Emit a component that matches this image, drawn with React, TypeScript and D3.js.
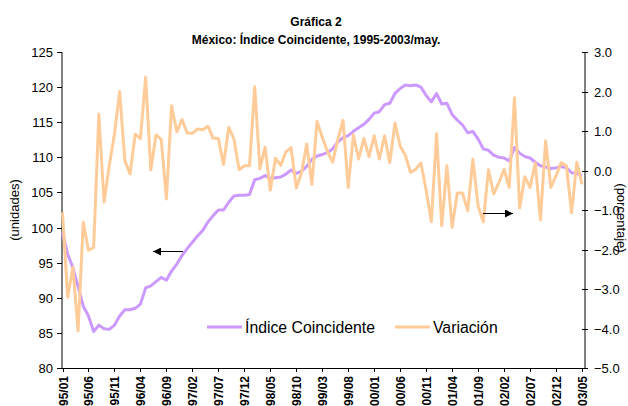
import React from 'react';
import * as d3 from 'd3';

// Monthly categories 95/01 .. 03/05
const years = ['95', '96', '97', '98', '99', '00', '01', '02', '03'];
const months = ['01', '02', '03', '04', '05', '06', '07', '08', '09', '10', '11', '12'];
const categories: string[] = [];
years.forEach(y => months.forEach(m => { if (!(y === '03' && +m > 5)) categories.push(`${y}/${m}`); }));

const tickLabels = [
  '95/01', '95/06', '95/11', '96/04', '96/09', '97/02', '97/07', '97/12', '98/05', '98/10', '99/03',
  '99/08', '00/01', '00/06', '00/11', '01/04', '01/09', '02/02', '02/07', '02/12', '03/05',
];

// Índice Coincidente (unidades)
const indice = [
  99.3, 96.2, 94.3, 91.6, 88.8, 87.4, 85.2, 86.1, 85.6, 85.5,
  86.1, 87.4, 88.3, 88.3, 88.5, 89.1, 91.4, 91.7, 92.3, 92.9,
  92.5, 93.8, 94.8, 96.0, 97.0, 97.9, 98.8, 99.6, 100.8, 101.7,
  102.5, 102.5, 103.6, 104.5, 104.6, 104.6, 104.7, 106.8, 107.0, 107.4,
  107.0, 107.1, 107.2, 107.6, 108.2, 107.7, 108.0, 108.7, 109.7, 110.2,
  110.4, 110.7, 111.2, 112.2, 112.8, 113.1, 113.7, 114.2, 114.7, 115.4,
  116.3, 116.5, 117.5, 117.7, 119.1, 119.8, 120.3, 120.2, 120.3, 120.0,
  118.8, 117.9, 119.1, 117.6, 117.7, 116.1, 115.3, 114.6, 113.5, 113.7,
  112.6, 111.2, 111.0, 110.3, 110.0, 109.9, 109.5, 111.4, 110.6, 110.1,
  109.9, 109.3, 108.8, 108.6, 108.4, 108.5, 108.7, 108.5, 107.8, 107.7,
  107.4,
];

// Variación (porcentaje)
const variacion = [
  -1.06, -3.21, -2.45, -4.06, -1.31, -2.02, -1.95, 1.43, -0.80, 0.12,
  0.92, 2.0, 0.25, -0.09, 0.92, 0.81, 2.36, 0.01, 0.90, 0.79,
  -0.72, 1.64, 0.98, 1.29, 0.95, 0.94, 1.05, 1.03, 1.12, 0.82,
  0.81, 0.15, 1.09, 0.80, 0.02, 0.12, 0.12, 2.12, 0.04, 0.59,
  -0.50, 0.31, 0.13, 0.47, 0.58, -0.44, -0.07, 0.67, -0.35, 1.24,
  0.84, 0.48, 0.21, 0.78, 1.27, -0.43, 0.90, 0.29, 0.81, 0.35,
  0.88, 0.29, 0.88, 0.20, 1.20, 0.62, 0.38, -0.05, 0.03, 0.19,
  -0.50, -1.30, 0.93, -1.40, 0.12, -1.44, -0.57, -0.57, -1.02, 0.29,
  -0.90, -1.30, 0.02, -0.59, -0.31, 0.03, -0.43, 1.84, -0.95, -0.16,
  -0.43, 0.19, -1.25, 0.75, -0.43, -0.13, 0.20, 0.12, -1.07, 0.21,
  -0.35,
];

const leftTicks = [80, 85, 90, 95, 100, 105, 110, 115, 120, 125];
const rightTicks = [-5, -4, -3, -2, -1, 0, 1, 2, 3];

const W = 628;
const H = 406;
const left = 62;
const right = 585;
const top = 52;
const bottom = 368;
const font = "'Liberation Sans', Arial, sans-serif";
const purple = '#CC99FF';
const orange = '#FFCC99';

const App: React.FC = () => {
  const x = d3.scalePoint<string>().domain(categories).range([left + 0.5, 582]);
  const yL = d3.scaleLinear().domain([80, 125]).range([bottom, top]);
  const yR = d3.scaleLinear().domain([-5, 3]).range([bottom, top]);

  const lineL = d3.line<number>().x((_, i) => x(categories[i])!).y(d => yL(d));
  const lineR = d3.line<number>().x((_, i) => x(categories[i])!).y(d => yR(d));

  return (
    <svg width={W} height={H} style={{ position: 'absolute', left: 0, top: 0, background: '#fff' }}
      fontFamily={font}>
      <defs>
        <marker id="ah" viewBox="0 0 10 10" refX="10" refY="5" markerWidth="8" markerHeight="8"
          markerUnits="userSpaceOnUse" orient="auto">
          <path d="M0,0 L10,5 L0,10 Z" fill="#000" />
        </marker>
      </defs>

      {/* title */}
      <text x={316} y={26} textAnchor="middle" fontSize={12} fontWeight="bold">Gráfica 2</text>
      <text x={316} y={44} textAnchor="middle" fontSize={12} fontWeight="bold">
        México: Índice Coincidente, 1995-2003/may.
      </text>

      {/* axes */}
      <line x1={left} x2={left} y1={top} y2={bottom} stroke="#000" />
      <line x1={right} x2={right} y1={top} y2={bottom} stroke="#000" />
      <line x1={left} x2={right} y1={bottom + 0.5} y2={bottom + 0.5} stroke="#000" />

      {leftTicks.map(t => (
        <g key={t} transform={`translate(0,${Math.round(yL(t)) + 0.5})`}>
          <line x1={left - 5} x2={left} stroke="#000" />
          <text x={left - 9} dy="0.36em" textAnchor="end" fontSize={13}>{t}</text>
        </g>
      ))}
      {rightTicks.map(t => (
        <g key={t} transform={`translate(0,${Math.round(yR(t)) + 0.5})`}>
          <line x1={right - 3} x2={right + 3} stroke="#000" />
          <text x={right + 9} dy="0.36em" fontSize={13}>{d3.format('.1f')(t)}</text>
        </g>
      ))}
      {tickLabels.map(t => {
        const px = Math.round(x(t)!) + 0.5;
        return (
          <g key={t} transform={`translate(${px},${bottom})`}>
            <line y1={0} y2={4} stroke="#000" />
            <text transform="translate(0,8) rotate(-90)" dy="0.36em" textAnchor="end" fontSize={12}
              fontWeight="bold">{t}</text>
          </g>
        );
      })}

      <text transform={`translate(19,210) rotate(-90)`} textAnchor="middle" fontSize={13}>(unidades)</text>
      <text transform={`translate(617,218) rotate(90)`} textAnchor="middle" fontSize={13}>(porcentaje)</text>

      {/* series */}
      <path d={lineL(indice)!} fill="none" stroke={purple} strokeWidth={3} strokeLinejoin="round" />
      <path d={lineR(variacion)!} fill="none" stroke={orange} strokeWidth={3} strokeLinejoin="round" />

      {/* arrows */}
      <line x1={183} x2={153} y1={251.5} y2={251.5} stroke="#000" markerEnd="url(#ah)" />
      <line x1={483} x2={513} y1={213.5} y2={213.5} stroke="#000" markerEnd="url(#ah)" />

      {/* legend */}
      <line x1={207} x2={242} y1={327} y2={327} stroke={purple} strokeWidth={3} />
      <text x={245} y={333} fontSize={15.8}>Índice Coincidente</text>
      <line x1={395} x2={430} y1={327} y2={327} stroke={orange} strokeWidth={3} />
      <text x={433} y={333} fontSize={15.8}>Variación</text>
    </svg>
  );
};

export default App;
